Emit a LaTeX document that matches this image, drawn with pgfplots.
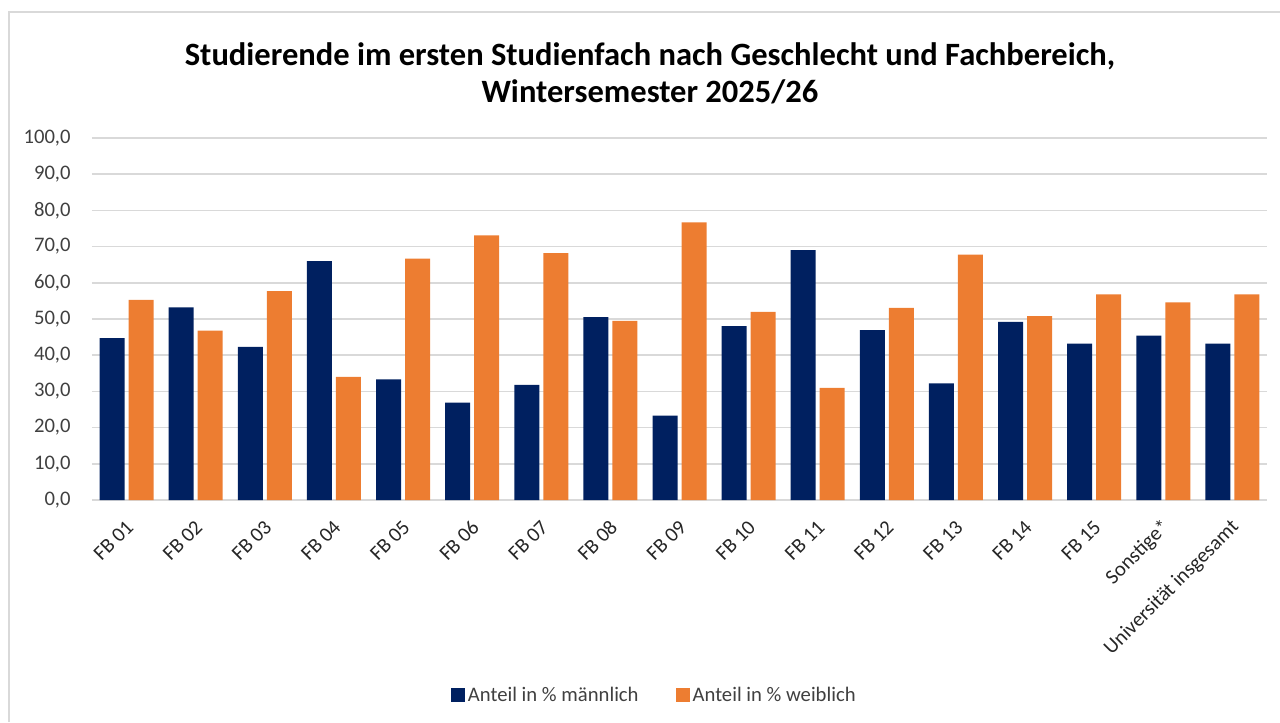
\documentclass[border=0pt]{standalone}
\usepackage{pgfplots}
\pgfplotsset{compat=1.18}
\usepackage{fontspec}
\setmainfont{Carlito}
\definecolor{navy}{HTML}{002060}
\definecolor{orng}{HTML}{ED7D31}
\definecolor{gridc}{HTML}{D9D9D9}
\definecolor{txt}{HTML}{404040}
\begin{document}
\begin{tikzpicture}[x=0.75pt,y=0.75pt]
\useasboundingbox (-92,-222) rectangle (1188,500);
\draw[gridc, line width=1.5pt] (-83,-222) -- (-83,488) -- (1188,488);
\begin{axis}[
  scale only axis, width=881.25pt, height=271.5pt,
  xmin=-0.5, xmax=16.5, ymin=0, ymax=100,
  ybar=3pt, bar width=18.75pt,
  ytick={0,10,...,100},
  xtick={0,...,16},
  xticklabels={FB 01,FB 02,FB 03,FB 04,FB 05,FB 06,FB 07,FB 08,FB 09,FB 10,FB 11,FB 12,FB 13,FB 14,FB 15,Sonstige*,Universität insgesamt},
  axis line style={draw=none},
  tick style={draw=none},
  ymajorgrids, grid style={gridc, line width=1.3pt},
  /pgf/number format/assume math mode=true,
  /pgf/number format/fixed, /pgf/number format/fixed zerofill,
  /pgf/number format/precision=1, /pgf/number format/use comma,
  ticklabel style={font=\fontsize{15.5}{15.5}\selectfont, text=txt},
  yticklabel style={xshift=-12.5pt},
  xticklabel style={rotate=45, anchor=east, xshift=-4.5pt, yshift=-11.5pt, font=\fontsize{15.5}{15.5}\selectfont, text=black!85},
  legend style={at={(0.479,-0.539)}, anchor=center, draw=none, legend columns=2,
    font=\fontsize{15.5}{15.5}\selectfont, text=txt,
    /tikz/every even column/.append style={column sep=26pt}},
  legend image code/.code={\fill[#1] (0pt,-5.25pt) rectangle (10.5pt,5.25pt);},
]
\addplot[fill=navy, draw=none] coordinates {(0,44.7) (1,53.2) (2,42.3) (3,66.0) (4,33.3) (5,26.9) (6,31.8) (7,50.5) (8,23.3) (9,48.0) (10,69.0) (11,46.9) (12,32.2) (13,49.2) (14,43.2) (15,45.4) (16,43.2)};
\addplot[fill=orng, draw=none] coordinates {(0,55.3) (1,46.8) (2,57.7) (3,34.0) (4,66.7) (5,73.1) (6,68.2) (7,49.5) (8,76.7) (9,52.0) (10,31.0) (11,53.1) (12,67.8) (13,50.8) (14,56.8) (15,54.6) (16,56.8)};
\legend{Anteil in \% männlich, Anteil in \% weiblich}
\end{axis}
\node[align=center, font=\fontsize{24.4}{27.75}\selectfont\bfseries] at (558,426.5) {Studierende im ersten Studienfach nach Geschlecht und Fachbereich,\\Wintersemester 2025/26};
\end{tikzpicture}
\end{document}
